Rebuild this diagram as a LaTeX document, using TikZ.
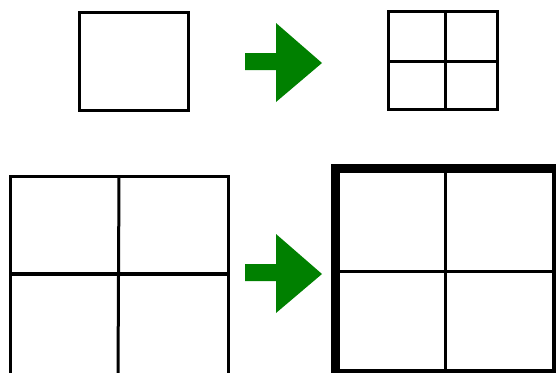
\documentclass[tikz,border=0pt]{standalone}
\usetikzlibrary{calc}
\definecolor{arrowgreen}{RGB}{0,128,0}
\tikzset{
  cell/.style={draw=black, line width=3pt},
  bigarrow/.style={fill=arrowgreen, draw=none}
}
\begin{document}
\begin{tikzpicture}[x=1pt, y=-1pt]
  \useasboundingbox (0,0) rectangle (556,372);
  \clip (0,0) rectangle (556,372);

  % one square
  \coordinate (S1) at (79,12);
  \coordinate (S2) at (188,110);
  \draw[cell] (S1) rectangle (S2);

  % split into four
  \coordinate (Q1) at (388,11);
  \coordinate (Q2) at (497,109);
  \draw[cell] (Q1) rectangle (Q2);
  \draw[cell] (445,11) -- (445,109);
  \draw[cell] (388,61) -- (497,61);

  % four squares side by side
  \coordinate (F1) at (10,176);
  \coordinate (F2) at (228,376);
  \draw[cell] (F1) rectangle (F2);
  \draw[cell] (119,176) -- (118,376);
  \draw[cell, line width=3.6pt] (10,274) -- (228,274);

  % merged into one big square
  \coordinate (B1) at (335.5,168.5);
  \coordinate (B2) at (556.5,373);
  \draw[line width=9pt] (B1) rectangle (B2);
  \draw[cell] (445,168.5) -- (445,373);
  \draw[cell] (335.5,271) -- (556.5,271);

  % arrows
  \foreach \dy in {0,211}{
    \fill[bigarrow] (245,53+\dy) -- (276,53+\dy) -- (276,23+\dy) -- (322,63+\dy)
      -- (276,102+\dy) -- (276,70+\dy) -- (245,70+\dy) -- cycle;
  }
\end{tikzpicture}
\end{document}
